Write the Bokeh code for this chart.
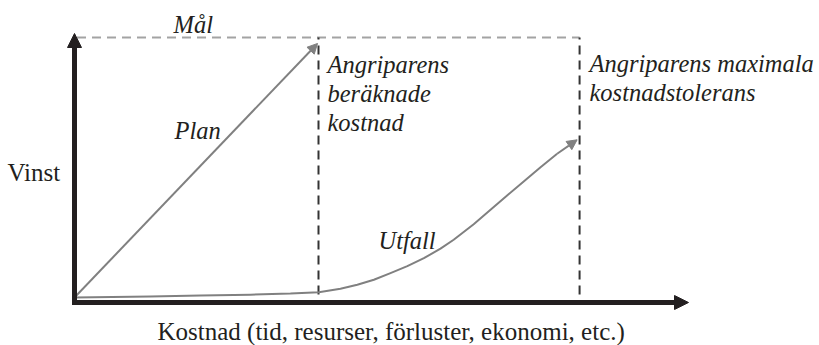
from bokeh.plotting import figure
from bokeh.models import Range1d, Arrow, NormalHead, ColumnDataSource
from bokeh.core.properties import value
from bokeh.embed import file_html
from bokeh.resources import INLINE

# ---------------- data (conceptual units: cost 1.0 = attacker's estimated cost,
# profit 1.0 = the goal "Mål")
cost_marks = [1.0, 2.07]          # beräknade kostnad, maximala kostnadstolerans
goal_profit = 1.0                 # Mål
plan_cost = [0.0, 0.996]
plan_profit = [0.0, 0.977]
utfall_cost = [0.0, 0.311, 0.516, 0.721, 0.885, 1.001, 1.090, 1.159, 1.227,
               1.295, 1.364, 1.432, 1.500, 1.554, 1.636, 1.705, 1.773, 1.841,
               1.910, 1.978, 2.060]
utfall_profit = [0.0, 0.004, 0.008, 0.011, 0.015, 0.0204, 0.0335, 0.0488,
                 0.0681, 0.0935, 0.1204, 0.1512, 0.188, 0.222, 0.282,
                 0.3373, 0.3923, 0.4462, 0.5012, 0.5527, 0.6065]
x_label = "Kostnad (tid, resurser, förluster, ekonomi, etc.)"
y_label = "Vinst"
goal_label = "Mål"
plan_label = "Plan"
utfall_label = "Utfall"
est_label = ["Angriparens", "beräknade", "kostnad"]
max_label = ["Angriparens maximala", "kostnadstolerans"]

# ---------------- layout
W, H = 819, 345
OX, OY = 74, 297          # canvas pixel of the origin
UX, UY = 244.0, 260.0     # pixels per unit


def X(px):
    return (px - OX) / UX


def Y(py):
    return (OY - py) / UY


p = figure(width=W, height=H, output_backend="svg", toolbar_location=None,
           x_range=Range1d(X(0), X(W)), y_range=Range1d(Y(H), Y(0)),
           min_border=0, outline_line_color=None, background_fill_color="white",
           border_fill_color="white")
p.axis.visible = False
p.grid.visible = False

AX = "#231f20"
GRAY = "#808080"
TXT = "#231f20"
FONT = value("Liberation Serif")

# goal dashed line
p.line([X(76.5), cost_marks[1]], [goal_profit, goal_profit], line_color="#a3a3a3",
       line_width=2, line_dash="9 6")
# vertical dashed cost lines
p.segment(x0=cost_marks, y0=[Y(294)] * 2, x1=cost_marks, y1=[goal_profit] * 2,
          line_color="#333333", line_width=2, line_dash="9 6")

# Utfall curve
p.line(utfall_cost[:-1], utfall_profit[:-1], line_color=GRAY, line_width=2,
       line_join="round")
p.add_layout(Arrow(end=NormalHead(size=10, fill_color=GRAY, line_color=GRAY),
                   x_start=utfall_cost[-2], y_start=utfall_profit[-2],
                   x_end=utfall_cost[-1], y_end=utfall_profit[-1],
                   line_color=GRAY, line_width=2))
# Plan arrow
p.add_layout(Arrow(end=NormalHead(size=10, fill_color=GRAY, line_color=GRAY),
                   x_start=plan_cost[0], y_start=plan_profit[0],
                   x_end=plan_cost[1], y_end=plan_profit[1],
                   line_color=GRAY, line_width=2))

# axes
p.add_layout(Arrow(end=NormalHead(size=14, fill_color=AX, line_color=AX),
                   x_start=X(74), y_start=Y(304.5), x_end=X(74), y_end=Y(33),
                   line_color=AX, line_width=5))
p.add_layout(Arrow(end=NormalHead(size=14, fill_color=AX, line_color=AX),
                   x_start=X(71.5), y_start=Y(302), x_end=X(688), y_end=Y(302),
                   line_color=AX, line_width=5))

# texts
italic = ColumnDataSource(dict(
    x=[X(173), X(174), X(378), X(327), X(327), X(327), X(589), X(589)],
    y=[Y(24), Y(130), Y(240), Y(64), Y(93), Y(122), Y(63), Y(92)],
    t=[goal_label, plan_label, utfall_label] + est_label + max_label,
))
p.text(x="x", y="y", text="t", source=italic, text_font=FONT,
       text_font_style="italic", text_font_size="24.5px", text_color=TXT,
       text_baseline="alphabetic", text_align="left")

regular = ColumnDataSource(dict(
    x=[X(7), X(157)],
    y=[Y(172), Y(331)],
    t=[y_label, x_label],
))
p.text(x="x", y="y", text="t", source=regular, text_font=FONT,
       text_font_size="25px", text_color=TXT,
       text_baseline="alphabetic", text_align="left")

open("out.html", "w").write(file_html(p, INLINE))
